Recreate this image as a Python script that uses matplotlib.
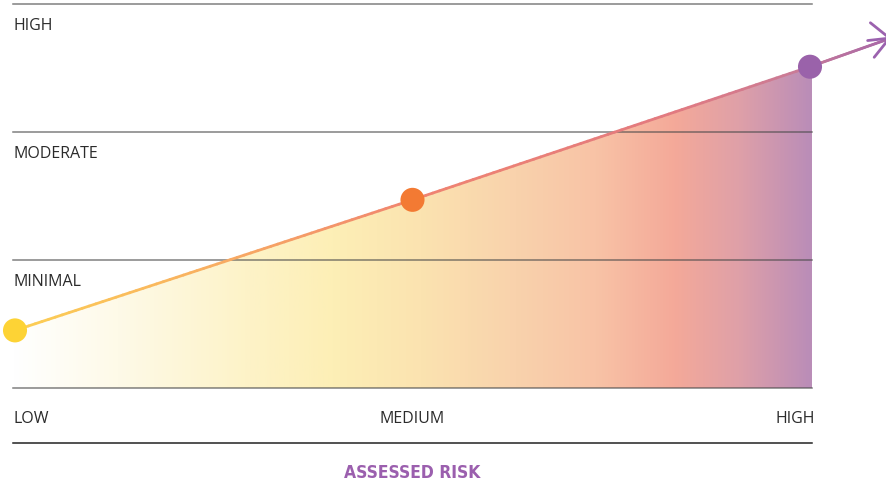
import matplotlib
matplotlib.use("Agg")
import matplotlib.pyplot as plt
import numpy as np
from matplotlib.collections import LineCollection
from matplotlib.colors import LinearSegmentedColormap
from matplotlib.patches import Polygon


# niveaux de risque evalue (x) et niveau de reponse (y)
RISQUE = [0, 1, 2]
REPONSE = [0.45, 1.47, 2.51]
COULEURS_POINTS = ["#FDD335", "#F37A33", "#9A62AA"]
FLECHE = (2.205, 2.735)

NIVEAUX_Y = [1, 2, 3]
ETIQUETTES_Y = ["MINIMAL", "MODERATE", "HIGH"]
ETIQUETTES_X = ["LOW", "MEDIUM", "HIGH"]
TITRE_X = "ASSESSED RISK"

POLICE = ["Open Sans", "DejaVu Sans"]

fig = plt.figure(figsize=(8.87, 4.81), dpi=100)
ax = fig.add_axes([0, 0, 1, 1])
ax.set_xlim(-15 / 397.5, 872 / 397.5)
ax.set_ylim(-92 / 128, 389 / 128)
ax.axis("off")

x_min, x_max = -0.005, 2.005

# remplissage en degrade sous la courbe
cmap_fond = LinearSegmentedColormap.from_list(
    "fond",
    [(0.0, "#FFFFFF"), (0.13, "#FEFAE8"), (0.29, "#FDF3C8"), (0.40, "#FDEFB6"),
     (0.51, "#FBE3B0"), (0.63, "#F9D2AC"), (0.73, "#F8C3A6"), (0.83, "#F4A999"),
     (0.91, "#DFA0A8"), (1.0, "#BA8DB8")],
)
degrade = np.linspace(0, 1, 512).reshape(1, -1)
img = ax.imshow(degrade, cmap=cmap_fond, aspect="auto", extent=(x_min, x_max, 0, 3),
                interpolation="bicubic", zorder=1)
contour = Polygon([(x_min, 0), (x_min, REPONSE[0])] + list(zip(RISQUE, REPONSE))
                  + [(x_max, REPONSE[-1]), (x_max, 0)],
                  closed=True, facecolor="none", edgecolor="none")
ax.add_patch(contour)
img.set_clip_path(contour)

# lignes de grille
for niv in [0] + NIVEAUX_Y:
    ax.plot([x_min, x_max], [niv, niv], color="#4a4a4a", alpha=0.7, lw=1.1, zorder=2)
ax.plot([x_min, x_max], [-0.43, -0.43], color="#222222", lw=1.1, zorder=2)

# ligne en degrade jusqu'a la fleche
cmap_ligne = LinearSegmentedColormap.from_list(
    "ligne", [(0.0, "#FCCF55"), (0.2, "#F9B260"), (0.45, "#F08470"),
              (0.75, "#E27A80"), (0.9, "#C87B98"), (1.0, "#A767A8")],
)
xs = RISQUE + [FLECHE[0]]
ys = REPONSE + [FLECHE[1]]
segments = []
for (xa, ya), (xb, yb) in zip(zip(xs[:-1], ys[:-1]), zip(xs[1:], ys[1:])):
    t = np.linspace(0, 1, 60)
    px = xa + (xb - xa) * t
    py = ya + (yb - ya) * t
    pts = np.column_stack([px, py])
    segments.extend(np.stack([pts[:-1], pts[1:]], axis=1))
segments = np.array(segments)
lc = LineCollection(segments, cmap=cmap_ligne, lw=2.0, zorder=3, capstyle="round")
lc.set_array(segments[:, 0, 0] / xs[-1])
ax.add_collection(lc)

ax.annotate("", xy=(FLECHE[0], FLECHE[1]), xytext=(FLECHE[0] - 0.06, FLECHE[1] - 0.0205),
            arrowprops=dict(arrowstyle="->,head_length=1.25,head_width=1.25", color="#9B62AE",
                            lw=2.0, mutation_scale=10, shrinkA=0, shrinkB=0),
            zorder=4, annotation_clip=False)

ax.scatter(RISQUE, REPONSE, s=300, c=COULEURS_POINTS, zorder=5, linewidths=0)

# etiquettes
for niv, lab in zip(NIVEAUX_Y, ETIQUETTES_Y):
    ax.text(-0.005, niv - 0.165, lab, ha="left", va="center", fontsize=11.5,
            color="#2b2b2b", family=POLICE)

ax.text(-0.005, -0.234, ETIQUETTES_X[0], ha="left", va="center", fontsize=11.5, color="#2b2b2b", family=POLICE)
ax.text(1.0, -0.234, ETIQUETTES_X[1], ha="center", va="center", fontsize=11.5, color="#2b2b2b", family=POLICE)
ax.text(2.013, -0.234, ETIQUETTES_X[2], ha="right", va="center", fontsize=11.5, color="#2b2b2b", family=POLICE)

ax.text(1.0, -0.656, TITRE_X, ha="center", va="center", fontsize=12.5, fontweight="bold",
        fontstretch="condensed", color="#9B5FAE", family=["DejaVu Sans"])

fig.savefig("out.png", dpi=100)
